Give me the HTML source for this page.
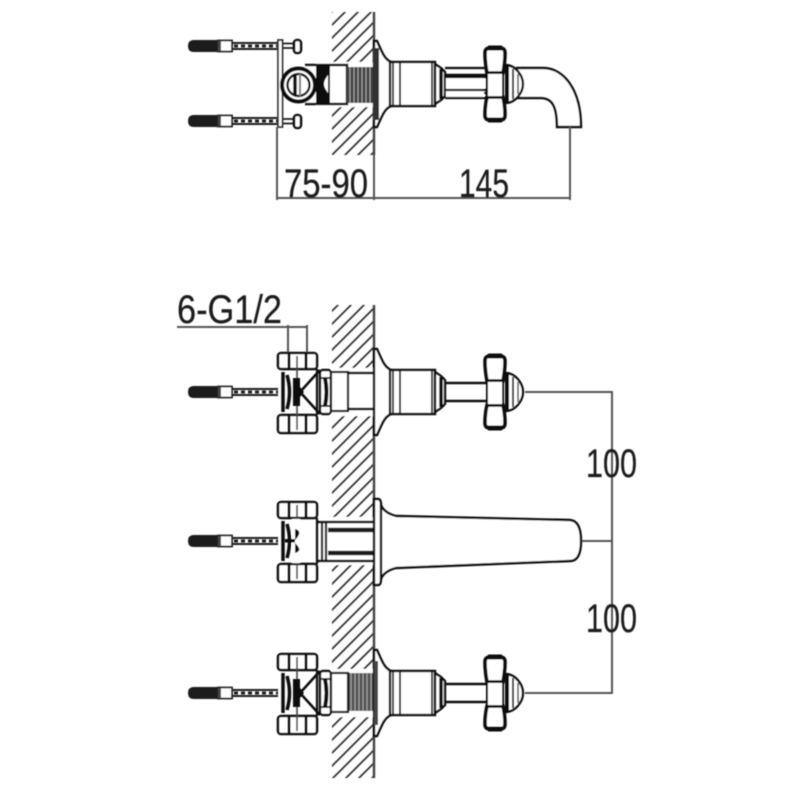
<!DOCTYPE html>
<html><head><meta charset="utf-8"><style>
html,body{margin:0;padding:0;background:#fff;width:800px;height:800px;overflow:hidden}
svg{display:block;overflow:hidden}
text{font-family:"Liberation Sans",sans-serif;fill:#1c1c1c;stroke:#1c1c1c;stroke-width:.25}
</style></head><body>
<svg width="800" height="800" viewBox="0 0 800 800" xmlns="http://www.w3.org/2000/svg">
<defs>
<filter id="b" x="0" y="0" width="800" height="800" filterUnits="userSpaceOnUse"><feGaussianBlur stdDeviation="0.5"/></filter>
<pattern id="hatch" width="13" height="13" patternUnits="userSpaceOnUse" x="332" y="12">
<path d="M-2 15L15 -2M-2 2L2 -2M11 15L15 11" stroke="#333" stroke-width="1.7" fill="none"/>
</pattern>
<g id="anchor">
<path d="M193 -6H218V6H193Q188 5.5 188 0Q188 -5.5 193 -6Z" fill="#1a1a1a"/>
<rect x="218" y="-5.5" width="14" height="11" fill="#fff" stroke="#222" stroke-width="1.8"/>
<rect x="218" y="-5" width="3" height="10" fill="#444"/>
<path d="M232 -3H278M232 3H278" stroke="#1a1a1a" stroke-width="2" fill="none"/>
<path d="M234 0H278" stroke="#1a1a1a" stroke-width="3" stroke-dasharray="4 3" fill="none"/>
</g>
<g id="handle" fill="none" stroke="#111">
<path d="M374 -43L377 -43C382 -32 384 -25 391 -22V22C384 25 382 32 377 43L374 43Z" fill="#fff" stroke-width="2.4"/>
<rect x="390" y="-22" width="45" height="44" fill="#fff" stroke-width="2.4"/>
<path d="M393 -22V22M400 -22V22M432 -22V22" stroke-width="1.8"/>
<path d="M435 -20L441 -16L445 -12V12L441 16L435 20Z" fill="#fff" stroke-width="2.4"/>
<path d="M441 -15V15" stroke-width="3.5"/>
<path d="M445 -9H486M445 9H486" stroke-width="2.4"/>
<path d="M505 -19C516 -19 523 -8 523 0C523 8 516 19 505 19" fill="#fff" stroke-width="2.4"/>
<path d="M507 -18V18" stroke-width="4"/>
<path d="M513 -15V15" stroke-width="1.8"/>
<path d="M518 -10V10" stroke-width="1.3"/>
<path d="M490 -36H500Q505 -36 505 -31Q505 -22 503 -11H487Q485 -22 485 -31Q485 -36 490 -36Z" fill="#fff" stroke-width="3.6"/>
<path d="M490 36H500Q505 36 505 31Q505 22 503 13H487Q485 22 485 31Q485 36 490 36Z" fill="#fff" stroke-width="3.6"/>
<path d="M488 -36H502M488 36H502" stroke-width="5"/>
<rect x="487" y="-11" width="16" height="24" fill="#fff" stroke-width="2"/>
</g>
<g id="valve" fill="none" stroke="#111">
<path d="M283 -23H317M283 23H317M317 -23V23" stroke-width="2.2"/>
<rect x="278" y="-39" width="39" height="16" rx="3" fill="#fff" stroke-width="2.6"/>
<rect x="278" y="23" width="39" height="18" rx="3" fill="#fff" stroke-width="2.6"/>
<path d="M289 -39V-23M306 -39V-23M289 23V41M306 23V41" stroke-width="3"/>
<path d="M283 -20V20" stroke-width="3.5"/>
<path d="M287 -17Q292 0 287 17" stroke-width="3.5"/>
<path d="M297 -36V38" stroke-width="1.6" stroke="#444"/>
</g>
<path id="x" d="M293 -14H300V-5L304 0L300 5V14H293Z" fill="#111"/>
<g id="fitting" fill="none" stroke="#111">
<path d="M300 0L320 -22M300 0L320 22" stroke-width="2.6"/>
<rect x="320" y="-22" width="11" height="44" rx="3" fill="#fff" stroke-width="2.4"/>
<path d="M325 -14Q328 0 325 14" stroke-width="4"/>
<path d="M321 -14H331M321 14H331" stroke-width="1.8"/>
<rect x="331" y="-20" width="17" height="39" fill="#fff" stroke-width="2.2"/>
</g>
</defs>
<rect width="800" height="800" fill="#fff"/>
<g filter="url(#b)">
<!-- hatch -->
<rect x="332" y="12" width="42" height="143" fill="url(#hatch)"/>
<rect x="332" y="305" width="42" height="473" fill="url(#hatch)"/>
<path d="M374 12V155M374 305V778" stroke="#444" stroke-width="2.4" fill="none"/>

<!-- top view -->
<use href="#anchor" y="46"/>
<use href="#anchor" y="121"/>
<path d="M278 43.500H294M278 48H294M278 119H294M278 123.500H294" stroke="#1a1a1a" stroke-width="1.8"/>
<rect x="294" y="40" width="7" height="13" rx="3" fill="#fff" stroke="#111" stroke-width="2.6"/>
<rect x="294" y="115" width="7" height="13" rx="3" fill="#fff" stroke="#111" stroke-width="2.6"/>
<rect x="278" y="40" width="4.500" height="87" fill="#fff" stroke="#333" stroke-width="1.8"/>
<rect x="316" y="62" width="58" height="45" fill="#fff"/>
<path d="M305 65H347V104H305" fill="#fff" stroke="#111" stroke-width="2.4"/>
<path d="M316 65H327Q332 70 326 78Q322 84 326 90Q332 98 327 104H316Z" fill="#111"/>
<path d="M329 65V104" stroke="#111" stroke-width="2"/>
<rect x="347" y="67" width="27" height="36" fill="#444"/>
<path d="M350 67V103M354 67V103M358 67V103M362 67V103M366 67V103M370 67V103" stroke="#aaa" stroke-width="1"/>
<circle cx="298.500" cy="85" r="16.500" fill="#fff" stroke="#111" stroke-width="4"/>
<circle cx="298.500" cy="85" r="11" fill="#fff" stroke="#111" stroke-width="2.4"/>
<path d="M295 75V95" stroke="#111" stroke-width="3.5"/>
<path d="M300 74V96" stroke="#777" stroke-width="2"/>
<path d="M516 68H543C564 68 581 90 581 127H557C557 108 553 98 541 98H516" fill="#fff" stroke="#111" stroke-width="2.4"/>
<g transform="translate(0,84)">
<use href="#handle"/>
<rect x="446" y="-8" width="38" height="21" fill="#fff"/>
<path d="M445 -16H486M445 14H486" stroke="#111" stroke-width="2.2"/>
<path d="M445 -7H486M445 6H486" stroke="#111" stroke-width="2.2"/>
<path d="M376 -36V36" stroke="#333" stroke-width="6"/>
</g>
<!-- dims top -->
<path d="M277 127V200M570 127V200M374 155V200M277 198H570" stroke="#555" stroke-width="2" fill="none"/>
<text x="284" y="197" font-size="40" textLength="84" lengthAdjust="spacingAndGlyphs">75-90</text>
<text x="459" y="197" font-size="40" textLength="50" lengthAdjust="spacingAndGlyphs">145</text>

<!-- upper valve -->
<g transform="translate(0,392)">
<rect x="331" y="-24" width="43" height="48" fill="#fff"/>
<path d="M347 -19H374M347 17H374" stroke="#111" stroke-width="2.400"/>
<use href="#anchor"/>
<use href="#valve"/>
<use href="#fitting"/>
<use href="#x"/>
<use href="#handle"/>
</g>
<!-- middle -->
<g transform="translate(0,541)">
<rect x="320" y="-24" width="54" height="48" fill="#fff"/>
<use href="#anchor"/>
<use href="#valve"/>
<rect x="292" y="-22" width="8" height="44" fill="#fff"/>
<rect x="285" y="-2" width="10" height="3.500" fill="#111"/>
<path d="M295 -12Q303 -10 296 -2Q293 0 296 3Q303 10 295 12Z" fill="#111"/>
<path d="M317 -19H374M317 20H374" stroke="#111" stroke-width="2.400"/>
<path d="M322 -19V20M326 -19V20" stroke="#111" stroke-width="2.200"/>
<path d="M328 -11H374M328 12H374" stroke="#1a1a1a" stroke-width="4.500"/>
<path d="M374 -42H378Q381 -42 381 -36Q384 -28 396 -25L570 -21Q581 -20 581 0Q581 20 570 20L396 27Q384 30 381 38Q381 44 378 44H374Z" fill="#fff" stroke="#111" stroke-width="2.400"/>
<path d="M381 -36V38" stroke="#111" stroke-width="2.400"/>
</g>
<!-- lower valve -->
<g transform="translate(0,693)">
<rect x="331" y="-24" width="43" height="48" fill="#fff"/>
<rect x="348" y="-20" width="26" height="38" fill="#555"/>
<path d="M351 -20V18M355 -20V18M359 -20V18M363 -20V18M367 -20V18M371 -20V18" stroke="#aaa" stroke-width="1"/>
<use href="#anchor"/>
<use href="#valve"/>
<use href="#fitting"/>
<use href="#x"/>
<use href="#handle"/>
<path d="M376 -32V32" stroke="#444" stroke-width="4"/>
</g>
<!-- dims lower -->
<path d="M525 392H612V693H525M582 541H612" stroke="#555" stroke-width="2" fill="none"/>
<text x="586" y="477" font-size="40" textLength="51" lengthAdjust="spacingAndGlyphs">100</text>
<text x="586" y="632" font-size="40" textLength="51" lengthAdjust="spacingAndGlyphs">100</text>
<text x="177" y="323" font-size="40" textLength="105" lengthAdjust="spacingAndGlyphs">6-G1/2</text>
<path d="M177 327H307M288 325V352M307 325V352" stroke="#555" stroke-width="2" fill="none"/>
</g>
</svg>
</body></html>
